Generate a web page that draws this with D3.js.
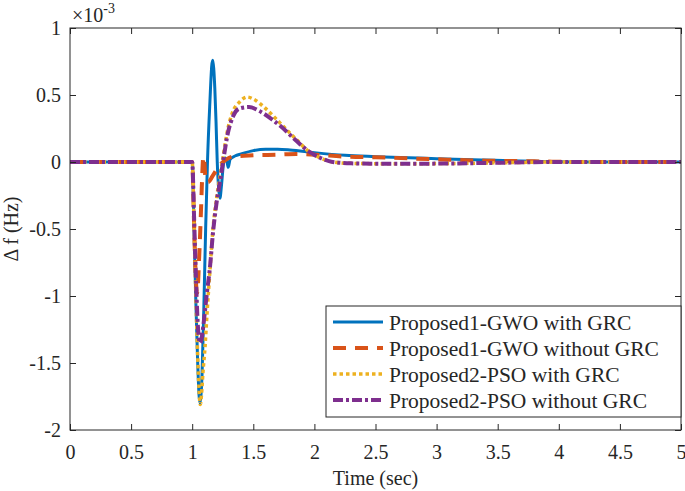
<!DOCTYPE html>
<html>
<head>
<meta charset="utf-8">
<script src="https://cdn.jsdelivr.net/npm/d3@7"></script>
<style>
  body { margin: 0; background: #ffffff; }
  text { font-family: 'Liberation Serif', 'Times New Roman', serif; fill: #262626; }
</style>
</head>
<body>
<div id="wrapper"></div>
<script>
// time (sec) and frequency deviation (x 1e-3 Hz) for each run
const tGwoGrc = [0, 1.0, 1.015, 1.03, 1.045, 1.056, 1.064, 1.072, 1.08, 1.095, 1.11, 1.125, 1.145, 1.16, 1.168, 1.176, 1.185, 1.195, 1.205, 1.215, 1.227, 1.24, 1.255, 1.27, 1.285, 1.295, 1.31, 1.35, 1.4, 1.5, 1.6, 1.7, 1.8, 2.0, 2.25, 2.5, 3.0, 3.4, 3.8, 4.2, 5]
const vGwoGrc = [0, 0, -0.5, -1.05, -1.5, -1.74, -1.8, -1.74, -1.6, -1.1, -0.5, 0.0, 0.45, 0.72, 0.76, 0.7, 0.55, 0.3, 0.0, -0.18, -0.27, -0.17, -0.02, 0.03, 0.0, -0.04, 0.02, 0.045, 0.06, 0.085, 0.095, 0.095, 0.09, 0.07, 0.05, 0.04, 0.025, 0.015, 0.005, 0, 0]

const tGwoNoGrc = [0, 1.0, 1.015, 1.03, 1.04, 1.048, 1.056, 1.064, 1.072, 1.08, 1.09, 1.097, 1.103, 1.11, 1.13, 1.17, 1.22, 1.28, 1.33, 1.5, 1.7, 1.85, 2.0, 2.25, 2.5, 3.0, 3.4, 3.8, 4.2, 5]
const vGwoNoGrc = [0, 0, -0.45, -0.88, -0.98, -0.9, -0.73, -0.56, -0.36, -0.15, 0.03, 0.04, -0.05, -0.14, -0.15, -0.1, -0.03, 0.02, 0.04, 0.05, 0.055, 0.06, 0.055, 0.04, 0.035, 0.02, 0.01, 0.005, 0, 0]

const tPsoGrc = [0, 1.0, 1.015, 1.03, 1.045, 1.056, 1.066, 1.075, 1.088, 1.105, 1.12, 1.146, 1.17, 1.2, 1.25, 1.29, 1.33, 1.39, 1.45, 1.5, 1.6, 1.72, 1.85, 1.96, 2.05, 2.15, 2.3, 2.6, 3.0, 3.5, 4.0, 5]
const vPsoGrc = [0, 0, -0.45, -1.0, -1.45, -1.7, -1.81, -1.75, -1.57, -1.38, -1.15, -0.8, -0.5, -0.27, 0.02, 0.24, 0.37, 0.45, 0.485, 0.47, 0.4, 0.29, 0.17, 0.075, 0.03, 0.0, -0.01, -0.013, -0.012, -0.006, 0, 0]

const tPsoNoGrc = [0, 1.0, 1.015, 1.03, 1.045, 1.055, 1.064, 1.08, 1.1, 1.12, 1.146, 1.17, 1.2, 1.227, 1.252, 1.293, 1.334, 1.39, 1.465, 1.55, 1.65, 1.72, 1.85, 1.96, 2.05, 2.15, 2.3, 2.6, 3.0, 3.5, 4.0, 5]
const vPsoNoGrc = [0, 0, -0.4, -0.85, -1.2, -1.32, -1.35, -1.3, -1.15, -0.98, -0.78, -0.53, -0.3, -0.15, 0.0, 0.22, 0.34, 0.4, 0.41, 0.38, 0.32, 0.27, 0.16, 0.075, 0.03, 0.0, -0.01, -0.013, -0.012, -0.006, 0, 0]

const seriesNames = [
  'Proposed1-GWO with GRC',
  'Proposed1-GWO without GRC',
  'Proposed2-PSO with GRC',
  'Proposed2-PSO without GRC',
]
const xTicks = [0, 0.5, 1, 1.5, 2, 2.5, 3, 3.5, 4, 4.5, 5]
const yTicks = [-2, -1.5, -1, -0.5, 0, 0.5, 1]

// line look for each series, same order as the names
const styles = [
  { color: '#0072BD', width: 3, dash: null },
  { color: '#D95319', width: 4, dash: '13,9' },
  { color: '#EDB120', width: 3.5, dash: '3.5,3' },
  { color: '#7E2F8E', width: 4, dash: '10,3,3,3' },
]

const series = [
  [tGwoGrc, vGwoGrc],
  [tGwoNoGrc, vGwoNoGrc],
  [tPsoGrc, vPsoGrc],
  [tPsoNoGrc, vPsoNoGrc],
].map(([t, v], i) => ({
  name: seriesNames[i],
  style: styles[i],
  points: t.map((d, j) => [d, v[j]]),
}))

let dimensions = {
  width: 685,
  height: 491,
  margin: { top: 28, right: 4, bottom: 61, left: 70 },
}
dimensions.boundedWidth = dimensions.width - dimensions.margin.left - dimensions.margin.right
dimensions.boundedHeight = dimensions.height - dimensions.margin.top - dimensions.margin.bottom

const wrapper = d3
  .select('#wrapper')
  .append('svg')
  .attr('width', dimensions.width)
  .attr('height', dimensions.height)

const bounds = wrapper
  .append('g')
  .attr('transform', `translate(${dimensions.margin.left},${dimensions.margin.top})`)

const xScale = d3.scaleLinear().domain([0, 5]).range([0, dimensions.boundedWidth])
const yScale = d3.scaleLinear().domain([-2, 1]).range([dimensions.boundedHeight, 0])

// clip so the thick lines stay inside the box
bounds
  .append('clipPath')
  .attr('id', 'clip')
  .append('rect')
  .attr('width', dimensions.boundedWidth)
  .attr('height', dimensions.boundedHeight)

const lineGenerator = d3
  .line()
  .x((d) => xScale(d[0]))
  .y((d) => yScale(d[1]))
  .curve(d3.curveMonotoneX)

bounds
  .append('g')
  .attr('clip-path', 'url(#clip)')
  .selectAll('path')
  .data(series)
  .enter()
  .append('path')
  .attr('d', (d) => lineGenerator(d.points))
  .attr('fill', 'none')
  .attr('stroke', (d) => d.style.color)
  .attr('stroke-width', (d) => d.style.width)
  .attr('stroke-dasharray', (d) => d.style.dash)
  .attr('stroke-linejoin', 'round')

// axes: ticks point inward on all four sides, like a matlab box
const fmt = (d) => String(d)
const xAxis = bounds
  .append('g')
  .attr('transform', `translate(0,${dimensions.boundedHeight})`)
  .call(d3.axisBottom(xScale).tickValues(xTicks).tickFormat(fmt).tickSizeInner(-6).tickSizeOuter(0).tickPadding(15))
const xAxisTop = bounds
  .append('g')
  .call(d3.axisTop(xScale).tickValues(xTicks).tickFormat('').tickSizeInner(-6).tickSizeOuter(0))
const yAxis = bounds
  .append('g')
  .call(d3.axisLeft(yScale).tickValues(yTicks).tickFormat(fmt).tickSizeInner(-6).tickSizeOuter(0).tickPadding(9))
const yAxisRight = bounds
  .append('g')
  .attr('transform', `translate(${dimensions.boundedWidth},0)`)
  .call(d3.axisRight(yScale).tickValues(yTicks).tickFormat('').tickSizeInner(-6).tickSizeOuter(0))

bounds.selectAll('.domain').remove()
bounds.selectAll('.tick line').attr('stroke', '#262626')
bounds.selectAll('.tick text').attr('font-size', 20).attr('font-family', null).attr('fill', '#262626')

bounds
  .append('rect')
  .attr('width', dimensions.boundedWidth)
  .attr('height', dimensions.boundedHeight)
  .attr('fill', 'none')
  .attr('stroke', '#262626')
  .attr('stroke-width', 1)

// axis labels
bounds
  .append('text')
  .attr('x', dimensions.boundedWidth / 2)
  .attr('y', dimensions.boundedHeight + 55)
  .attr('text-anchor', 'middle')
  .attr('font-size', 20)
  .text('Time (sec)')

bounds
  .append('text')
  .attr('transform', `translate(${18 - dimensions.margin.left},${dimensions.boundedHeight / 2}) rotate(-90)`)
  .attr('text-anchor', 'middle')
  .attr('font-size', 20)
  .text('\u0394 f (Hz)')

// exponent note above the y axis
const expo = bounds.append('text').attr('x', 2).attr('y', -6).attr('font-size', 20)
expo.append('tspan').text('\u00d710')
expo.append('tspan').attr('dy', -9).attr('font-size', 14).text('-3')

// legend box in the lower right
const legend = bounds.append('g').attr('transform', `translate(${256},${278})`)
legend
  .append('rect')
  .attr('width', 355)
  .attr('height', 111)
  .attr('fill', '#ffffff')
  .attr('stroke', '#262626')
  .attr('stroke-width', 1)

const legendRows = legend
  .selectAll('.row')
  .data(series)
  .enter()
  .append('g')
  .attr('transform', (d, i) => `translate(0,${16 + i * 26})`)

legendRows
  .append('line')
  .attr('x1', 7)
  .attr('x2', 57)
  .attr('stroke', (d) => d.style.color)
  .attr('stroke-width', (d) => d.style.width)
  .attr('stroke-dasharray', (d) => d.style.dash)

legendRows
  .append('text')
  .attr('x', 63)
  .attr('y', 8)
  .attr('font-size', 21.5)
  .text((d) => d.name)
</script>
</body>
</html>
